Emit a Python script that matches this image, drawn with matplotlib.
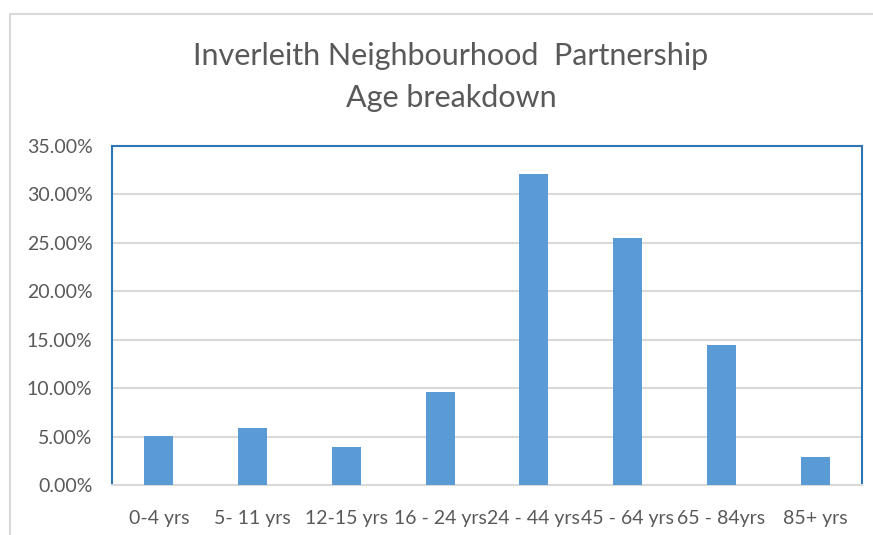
import matplotlib
matplotlib.use("Agg")
import matplotlib.pyplot as plt
from matplotlib.patches import Rectangle
from matplotlib.ticker import FuncFormatter, MultipleLocator

categories = ["0-4 yrs", "5- 11 yrs", "12-15 yrs", "16 - 24 yrs", "24 - 44 yrs",
              "45 - 64 yrs", "65 - 84yrs", "85+ yrs"]
values = [5.05, 5.9, 3.97, 9.6, 32.1, 25.5, 14.45, 2.87]
title_lines = ["Inverleith Neighbourhood  Partnership", "Age breakdown"]

plt.rcParams['font.family'] = ['Lato', 'DejaVu Sans']
W, H = 873, 535
fig = plt.figure(figsize=(W / 100, H / 100), dpi=100)
fig.patches.append(Rectangle((10 / W, -0.1), 1.2, (H - 14) / H + 0.1, transform=fig.transFigure,
                             facecolor='none', edgecolor='#D9D9D9', linewidth=1.5))

ax = fig.add_axes([112 / W, (H - 485) / H, (862 - 112) / W, (485 - 146) / H])
x = list(range(len(categories)))
ax.bar(x, values, width=0.31, color='#5B9BD5', zorder=3)
ax.set_xlim(-0.5, len(categories) - 0.5)
ax.set_ylim(0, 35)
ax.yaxis.set_major_locator(MultipleLocator(5))
ax.yaxis.set_major_formatter(FuncFormatter(lambda v, p: f"{v:.2f}%"))
ax.set_xticks(x)
ax.set_xticklabels(categories)
ax.grid(axis='y', color='#D9D9D9', linewidth=1.5, zorder=0)
ax.tick_params(length=0, labelsize=14, colors='#595959', pad=14)
ax.tick_params(axis='x', pad=18)
for s in ['left', 'top', 'right']:
    ax.spines[s].set_color('#2E75B6')
    ax.spines[s].set_linewidth(1.5)
ax.spines['bottom'].set_color('#D9D9D9')
ax.spines['bottom'].set_linewidth(1.5)

fig.text(451 / W, 1 - 56 / H, title_lines[0], ha='center', va='center', fontsize=22, color='#595959')
fig.text(451 / W, 1 - 98 / H, title_lines[1], ha='center', va='center', fontsize=22, color='#595959')

fig.savefig("out.png", dpi=100)
